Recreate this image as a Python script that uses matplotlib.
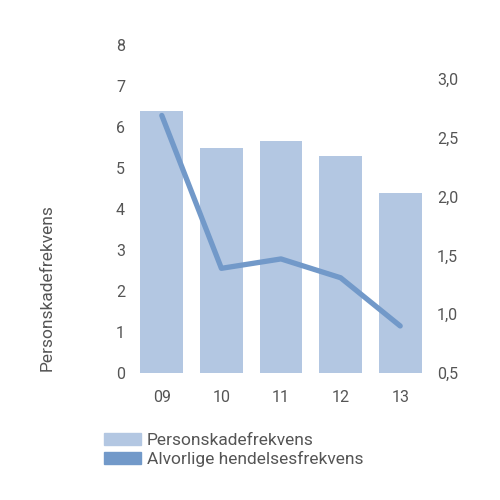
import matplotlib
matplotlib.use("Agg")
import matplotlib.pyplot as plt
from matplotlib.patches import Patch

years = ["09", "10", "11", "12", "13"]
personskade = [6.4, 5.5, 5.65, 5.3, 4.4]
alvorlige = [2.69, 1.39, 1.47, 1.31, 0.90]
left_ticks = [0, 1, 2, 3, 4, 5, 6, 7, 8]
right_ticks = [0.5, 1.0, 1.5, 2.0, 2.5, 3.0]
right_labels = ["0,5", "1,0", "1,5", "2,0", "2,5", "3,0"]

bar_color = "#b3c7e2"
line_color = "#7299c9"
text_color = "#555555"
plt.rcParams["font.family"] = ["Roboto", "DejaVu Sans"]

fig = plt.figure(figsize=(5, 5), dpi=100)
ax = fig.add_axes([0.264, 0.254, 0.596, 0.656])
x = list(range(len(years)))
ax.bar(x, personskade, width=0.72, color=bar_color)
ax.set_xlim(-0.5, len(years) - 0.5)
ax.set_ylim(0, 8)
ax.set_yticks(left_ticks)
ax.set_xticks(x)
ax.set_xticklabels(years)
for s in ax.spines.values():
    s.set_visible(False)
ax.tick_params(axis="both", length=0, labelsize=11.5, colors=text_color)
ax.tick_params(axis="y", pad=5)
ax.tick_params(axis="x", pad=12)

ax2 = ax.twinx()
ax2.plot(x, alvorlige, color=line_color, lw=3.8, solid_capstyle="round", solid_joinstyle="round")
ax2.set_ylim(0.5, 0.5 + 328 / 117.6)
ax2.set_yticks(right_ticks)
ax2.set_yticklabels(right_labels)
for s in ax2.spines.values():
    s.set_visible(False)
ax2.tick_params(axis="y", length=0, labelsize=11.5, colors=text_color, pad=5)

fig.text(0.094, 0.424, "Personskadefrekvens", rotation=90, ha="center", va="center",
         fontsize=12.5, color=text_color)

handles = [Patch(color=bar_color, label="Personskadefrekvens"),
           Patch(color=line_color, label="Alvorlige hendelsesfrekvens")]
fig.legend(handles=handles, loc="upper left", bbox_to_anchor=(0.19, 0.152),
           frameon=False, fontsize=12.5, handlelength=2.15, handleheight=0.7,
           handletextpad=0.35, labelspacing=0.2, borderpad=0, labelcolor=text_color)

fig.savefig("out.png", dpi=100)
